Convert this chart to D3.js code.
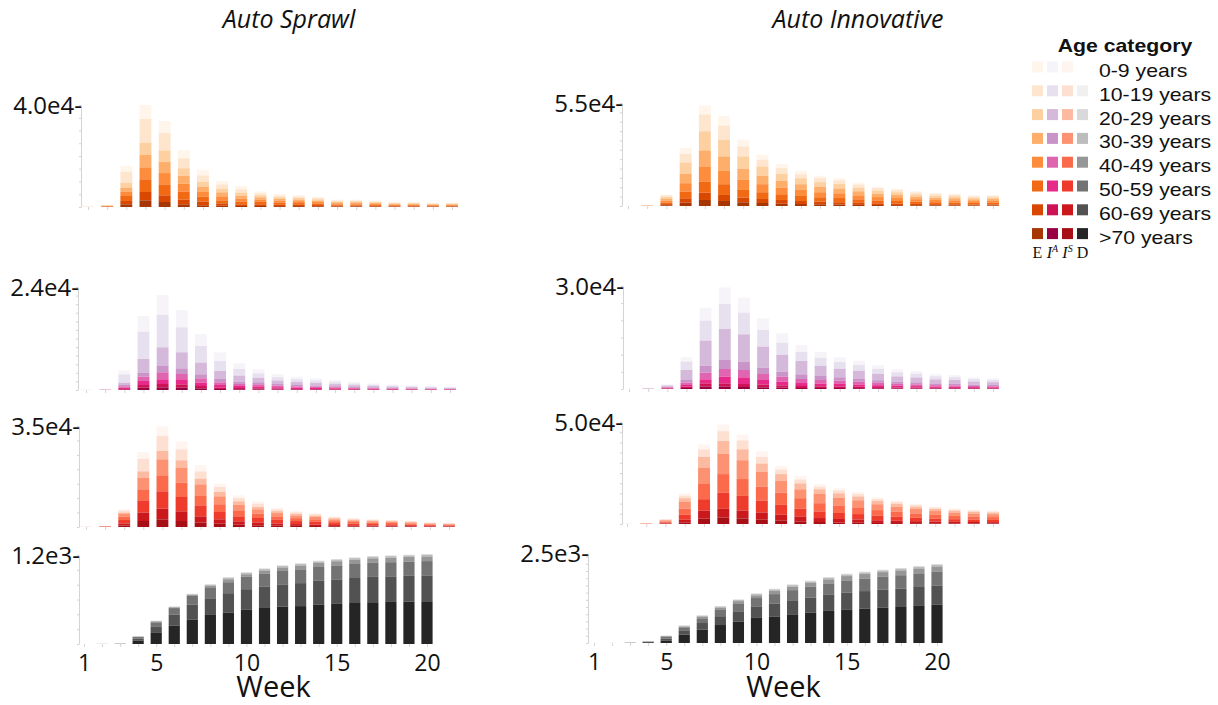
<!DOCTYPE html>
<meta charset="utf-8">
<style>
body { margin: 0; background: #fff; }
text { font-family: 'Open Sans', sans-serif; fill: #111; }
.title { font-style: italic; font-size: 25px; }
.ymax { font-size: 24px; }
.axis path, .axis line { stroke: #d4d4d4; }
.xlab text { font-size: 23px; font-family: 'Open Sans', sans-serif; fill: #111; }
.week { font-size: 29px; }
.legend text { font-family: 'Liberation Sans', Arial, sans-serif; font-size: 18px; }
.legend .head { font-weight: bold; }
.legend .comp { font-family: 'Liberation Serif', serif; font-size: 16px; }
</style>
<svg width="1218" height="705"></svg>
<script src="https://d3js.org/d3.v7.min.js"></script>
<script>

var weeks = [1, 2, 3, 4, 5, 6, 7, 8, 9, 10, 11, 12, 13, 14, 15, 16, 17, 18, 19, 20];
var weekTicks = [1, 5, 10, 15, 20];
var ageGroups = ["0-9 years", "10-19 years", "20-29 years", "30-39 years",
                 "40-49 years", "50-59 years", "60-69 years", ">70 years"];
var titles = ["Auto Sprawl", "Auto Innovative"];
// y maxima: rows E, I^A, I^S, D ; columns sprawl, innovative
var yMaxSprawl = [40000, 24000, 35000, 1200];
var yMaxInnov = [55000, 30000, 50000, 2500];

// each row = one week, values by age group (0-9 ... >70)
var sprawlE = [
  [10,15,10,10,10,10,8,7],
  [110,180,110,110,120,120,80,70],
  [2220,4310,1960,1570,1700,1960,1310,1050],
  [5490,9270,4840,4840,4710,4970,3270,2610],
  [4570,6930,4570,4310,4440,4310,2610,1960],
  [3140,3920,3010,3010,3140,3140,1830,1050],
  [2220,2480,1960,2090,1830,1960,1440,650],
  [1310,1700,1440,1570,1570,1180,910,520],
  [1310,1310,1180,1180,1180,1050,650,390],
  [700,800,800,850,950,950,650,400],
  [600,650,650,700,800,800,550,350],
  [550,600,600,650,750,700,500,350],
  [450,500,500,550,650,600,450,300],
  [330,360,360,400,470,440,320,220],
  [320,360,370,400,470,440,320,220],
  [280,310,320,350,400,380,280,180],
  [220,240,250,270,310,300,220,140],
  [220,240,250,270,310,300,220,140],
  [180,200,200,220,260,250,180,110],
  [190,210,220,240,270,260,190,120]
];
var innovE = [
  [5,8,8,8,8,7,4,2],
  [30,50,60,60,60,50,30,20],
  [400,800,1000,1000,1000,900,600,400],
  [3040,4650,6090,5010,4480,3580,2330,1790],
  [4830,8950,10200,8590,8060,5910,3940,3220],
  [5010,7520,8950,7700,7160,5730,3220,2690],
  [3580,5370,6620,5910,5370,4120,2510,1970],
  [2690,3580,5010,4480,4300,3580,2150,1610],
  [2150,3040,3760,3580,3580,3040,1970,1250],
  [1790,2150,3220,3040,3220,2690,1610,1070],
  [1250,2150,2510,2860,2690,2330,1430,900],
  [1200,1950,2400,2550,2550,2250,1250,750],
  [1000,1650,2000,2150,2150,1850,1100,600],
  [830,1350,1650,1800,1800,1550,900,520],
  [740,1200,1500,1600,1600,1400,800,460],
  [630,1030,1260,1340,1340,1190,710,400],
  [560,910,1120,1190,1190,1050,630,350],
  [530,860,1060,1120,1120,990,590,330],
  [460,740,910,970,970,860,510,280],
  [470,770,940,1000,1000,890,530,300]
];
var sprawlIA = [
  [8,8,8,4,4,4,2,2],
  [25,30,30,15,15,15,10,10],
  [930,1940,540,310,310,310,160,80],
  [3650,6370,3190,930,1010,930,620,540],
  [4660,7540,4350,1480,1630,1090,780,620],
  [4040,5830,3730,1320,1240,1170,780,540],
  [2800,3890,2720,930,1010,780,540,390],
  [2020,2330,1860,780,620,620,310,230],
  [1320,1550,1400,540,470,470,310,160],
  [900,1050,1050,480,470,450,250,150],
  [700,800,800,380,370,350,190,110],
  [580,670,680,320,310,300,150,90],
  [500,580,590,280,270,260,140,80],
  [420,500,500,240,240,220,110,70],
  [340,400,400,190,190,180,100,60],
  [280,330,340,160,160,150,80,50],
  [230,280,290,140,130,130,60,40],
  [190,230,240,110,110,110,55,35],
  [165,200,205,95,95,95,45,30],
  [135,165,170,80,80,80,35,25]
];
var innovIA = [
  [5,6,8,3,3,2,2,1],
  [25,40,50,20,20,15,10,10],
  [150,250,300,180,180,150,90,60],
  [1260,2430,2910,780,680,490,390,290],
  [3790,5830,7280,2040,1940,1170,970,680],
  [4860,7280,9030,2620,2230,1940,970,680],
  [4370,6310,7960,2430,2140,1940,870,580],
  [3400,4860,6120,1840,1750,1360,780,490],
  [2720,3590,4860,1460,1460,1070,680,390],
  [2040,2620,3880,1360,1170,870,580,290],
  [1650,2430,2910,1170,1070,780,490,290],
  [1380,1940,2490,1010,920,740,460,280],
  [1240,1730,2230,910,830,660,410,240],
  [1030,1450,1860,760,690,550,350,210],
  [860,1200,1550,630,570,460,290,170],
  [790,1100,1410,580,520,420,260,160],
  [660,920,1180,480,440,350,210,130],
  [610,860,1100,450,410,330,200,120],
  [510,710,920,370,340,270,170,110],
  [470,650,840,340,310,250,160,90]
];
var sprawlIS = [
  [4,5,5,8,9,9,6,4],
  [30,35,35,60,60,65,40,25],
  [400,700,500,1000,1100,1200,700,520],
  [2310,4390,2310,3930,3810,4270,2890,2080],
  [3350,5200,2890,5540,5540,6010,3700,2660],
  [2770,3810,2660,5080,4970,4970,3350,2080],
  [2080,2540,1960,3810,3470,3810,2190,1500],
  [1160,1730,1500,2770,2660,2540,1500,1160],
  [920,1160,1160,1960,2080,1730,1160,810],
  [810,1160,810,1500,1500,1620,920,580],
  [540,670,670,1140,1210,1270,740,460],
  [440,550,550,940,1000,1050,610,400],
  [390,490,490,820,870,920,530,340],
  [300,370,370,630,670,700,400,260],
  [250,310,310,530,560,590,350,220],
  [220,280,280,470,500,530,300,190],
  [200,250,250,430,460,480,280,190],
  [180,220,220,370,390,420,240,150],
  [130,160,160,280,290,310,180,110],
  [110,140,140,240,250,260,150,100]
];
var innovIS = [
  [3,4,6,11,11,8,5,2],
  [20,25,40,70,70,55,30,10],
  [150,200,300,530,510,410,230,100],
  [1130,1300,1620,3560,2920,2430,1300,810],
  [2430,3730,5180,8100,7450,5510,4050,2590],
  [3240,4860,6160,10040,9070,7940,4210,3240],
  [2920,4370,5350,9230,8260,7130,3890,2750],
  [2750,3240,4050,7290,6800,5830,3560,2110],
  [1780,2270,3400,5670,5990,4860,2920,1620],
  [1620,1940,2920,4370,5180,3730,2430,1300],
  [1300,1300,2270,4540,4050,3240,1940,970],
  [1050,1400,2100,3850,3680,2980,1750,690],
  [940,1260,1880,3450,3300,2670,1570,630],
  [790,1050,1570,2880,2750,2230,1310,520],
  [690,920,1380,2530,2420,1960,1150,450],
  [590,790,1190,2180,2080,1680,990,400],
  [520,690,1030,1890,1810,1460,860,340],
  [460,610,910,1670,1600,1290,760,300],
  [420,560,840,1540,1470,1190,700,280],
  [390,520,780,1430,1370,1100,650,260]
];
var sprawlD = [
  [0,0,0,0,0,0,0,0],
  [0,0,0,0,0,0,0,1],
  [0,0,0,0,0,1,1,2],
  [0,0,1,2,6,20,27,47],
  [0,0,4,6,12,54,81,157],
  [0,0,5,7,10,90,148,246],
  [0,0,6,9,12,121,202,327],
  [0,0,8,12,22,148,224,392],
  [0,0,9,18,40,148,260,425],
  [0,0,9,18,31,170,278,461],
  [0,2,9,19,45,170,290,486],
  [0,2,9,19,48,180,300,504],
  [0,2,9,20,52,185,310,511],
  [0,2,9,20,55,186,320,532],
  [0,2,9,20,57,188,330,541],
  [0,2,9,21,58,189,337,553],
  [0,2,9,21,60,190,342,563],
  [0,2,9,21,61,191,345,567],
  [0,2,9,21,62,192,347,572],
  [0,2,9,22,63,193,349,576]
];
var innovD = [
  [0,0,0,0,0,0,0,0],
  [0,0,0,0,0,0,0,1],
  [0,0,0,0,1,2,2,4],
  [0,0,1,2,4,9,10,20],
  [0,1,4,9,20,45,55,70],
  [0,2,12,25,35,65,120,232],
  [0,2,10,22,50,130,185,370],
  [0,3,13,28,65,175,245,499],
  [0,3,15,32,78,205,285,595],
  [0,3,17,37,74,231,306,712],
  [0,3,18,40,90,260,360,738],
  [0,3,19,42,98,282,390,796],
  [0,3,19,43,105,300,415,847],
  [0,3,19,44,112,318,445,892],
  [0,3,19,45,120,336,470,933],
  [0,3,19,45,125,348,485,957],
  [0,3,19,46,130,360,500,979],
  [0,3,19,46,133,370,512,1001],
  [0,3,19,46,136,380,525,1030],
  [0,3,19,46,139,389,537,1062]
];

var colE = d3.schemeOranges[9].slice(0, 8),
    colIA = d3.schemePuRd[9].slice(0, 8),
    colIS = d3.schemeReds[9].slice(0, 8),
    colD = d3.schemeGreys[9].slice(0, 8);

var svg = d3.select("svg");
var fmt = function(v) { return d3.format(".1e")(v).replace("+", ""); };

var panels = [
  {data: sprawlE,  max: yMaxSprawl[0], col: colE,  ax: 81,  top: 105, base: 207, x0: 88,  x1: 452},
  {data: sprawlIA, max: yMaxSprawl[1], col: colIA, ax: 78,  top: 287, base: 390, x0: 86,  x1: 450},
  {data: sprawlIS, max: yMaxSprawl[2], col: colIS, ax: 79,  top: 426, base: 527, x0: 86,  x1: 449},
  {data: sprawlD,  max: yMaxSprawl[3], col: colD,  ax: 79,  top: 555, base: 644, x0: 84,  x1: 427, labels: true},
  {data: innovE,   max: yMaxInnov[0],  col: colE,  ax: 622, top: 103, base: 206, x0: 628, x1: 993},
  {data: innovIA,  max: yMaxInnov[1],  col: colIA, ax: 623, top: 286, base: 389, x0: 629, x1: 993},
  {data: innovIS,  max: yMaxInnov[2],  col: colIS, ax: 622, top: 422, base: 524, x0: 627, x1: 993},
  {data: innovD,   max: yMaxInnov[3],  col: colD,  ax: 588, top: 553, base: 643, x0: 594, x1: 937, labels: true}
];

panels.forEach(function(p) {
  var g = svg.append("g");
  var x = d3.scalePoint().domain(weeks).range([p.x0, p.x1]);
  var y = d3.scaleLinear().domain([0, p.max]).range([p.base, p.top]);
  var bw = x.step() * 0.62;
  // oldest group at the bottom of each bar
  var series = d3.stack()
    .keys(d3.range(ageGroups.length))
    .order(d3.stackOrderReverse)(p.data);

  g.selectAll(".layer")
    .data(series)
    .enter().append("g")
      .attr("class", "layer")
      .attr("fill", function(d) { return p.col[d.key]; })
    .selectAll("rect")
    .data(function(d) { return d; })
    .enter().append("rect")
      .attr("x", function(d, i) { return x(weeks[i]) - bw / 2; })
      .attr("width", bw)
      .attr("y", function(d) { return y(d[1]); })
      .attr("height", function(d) { return Math.max(0, y(d[0]) - y(d[1])); });

  g.append("g")
    .attr("class", "axis")
    .attr("transform", "translate(" + p.ax + ",0)")
    .call(d3.axisLeft(y).ticks(8).tickSize(2).tickSizeOuter(0).tickFormat(""));

  var xa = g.append("g")
    .attr("class", "axis")
    .attr("transform", "translate(0," + p.base + ")")
    .call(d3.axisBottom(x).tickSize(3).tickFormat(""));
  xa.select(".domain").remove();

  g.append("text")
    .attr("class", "ymax")
    .attr("x", p.ax + 1)
    .attr("y", p.top)
    .attr("dy", "0.36em")
    .attr("text-anchor", "end")
    .text(fmt(p.max) + "-");

  if (p.labels) {
    var la = g.append("g")
      .attr("class", "xlab")
      .attr("transform", "translate(0," + p.base + ")")
      .call(d3.axisBottom(x).tickValues(weekTicks).tickSize(0).tickPadding(11));
    la.select(".domain").remove();
    g.append("text")
      .attr("class", "week")
      .attr("x", (p.x0 + p.x1) / 2 + 18)
      .attr("y", 697)
      .attr("text-anchor", "middle")
      .text("Week");
  }
});

svg.selectAll(".title")
  .data(titles)
  .enter().append("text")
    .attr("class", "title")
    .attr("x", function(d, i) { return i ? 858 : 289; })
    .attr("y", 28)
    .attr("text-anchor", "middle")
    .text(function(d) { return d; });

// legend
var leg = svg.append("g").attr("class", "legend");
var legCols = [colE, colIA, colIS, colD];

leg.append("text")
  .attr("class", "head")
  .attr("transform", "translate(1125,52) scale(1.18,1)")
  .attr("text-anchor", "middle")
  .text("Age category");

var row = leg.selectAll(".row")
  .data(ageGroups)
  .enter().append("g")
    .attr("class", "row")
    .attr("transform", function(d, i) { return "translate(0," + (67 + i * 23.8) + ")"; });

row.selectAll("rect")
  .data(function(d, i) { return legCols.map(function(c) { return c[i]; }); })
  .enter().append("rect")
    .attr("x", function(d, j) { return 1032 + j * 15; })
    .attr("y", -5.5)
    .attr("width", 11)
    .attr("height", 11)
    .attr("fill", function(d) { return d; });

row.append("text")
  .attr("transform", "translate(1099,10) scale(1.18,1)")
  .text(function(d) { return d; });

// compartment labels under the colour columns
var compNames = [["E", ""], ["I", "A"], ["I", "S"], ["D", ""]];
var comp = leg.selectAll(".comp")
  .data(compNames)
  .enter().append("text")
    .attr("class", "comp")
    .attr("x", function(d, j) { return 1037.5 + j * 15; })
    .attr("y", 258)
    .attr("text-anchor", "middle");
comp.append("tspan")
  .attr("font-style", function(d) { return d[1] ? "italic" : null; })
  .text(function(d) { return d[0]; });
comp.filter(function(d) { return d[1]; })
  .append("tspan")
    .attr("font-style", "italic")
    .attr("font-size", "10px")
    .attr("dy", -6)
    .text(function(d) { return d[1]; });

</script>
